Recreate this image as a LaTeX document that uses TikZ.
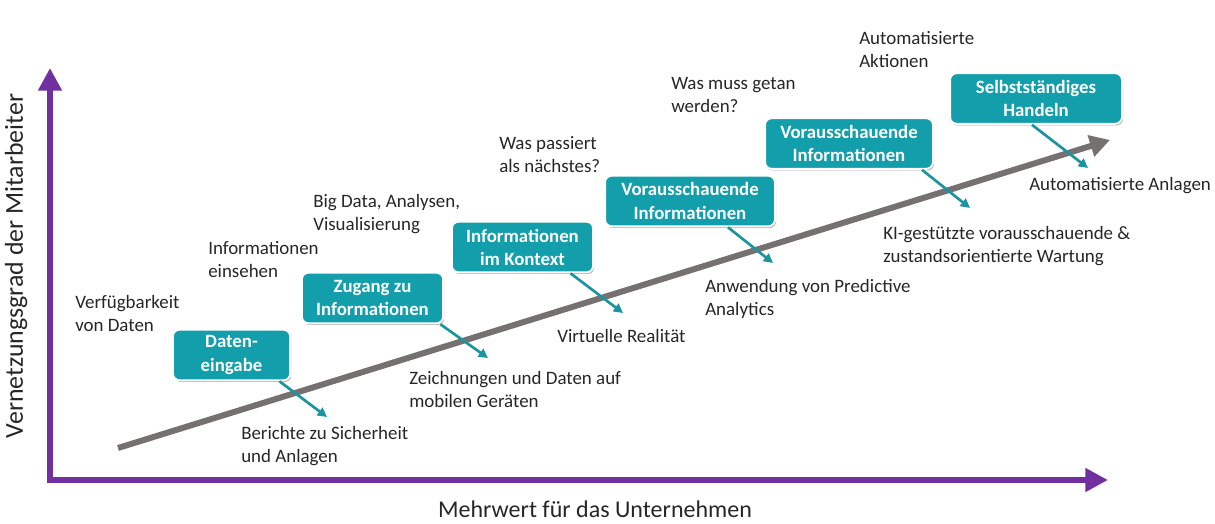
\documentclass[tikz,border=0pt]{standalone}
\usepackage{fontspec}
\setmainfont{Carlito}
\usetikzlibrary{arrows.meta,shadows,calc}
\definecolor{axispurple}{HTML}{7030A0}
\definecolor{trendgray}{HTML}{767171}
\definecolor{stepteal}{HTML}{129EAB}
\definecolor{linkteal}{HTML}{1B949F}
\definecolor{textgray}{HTML}{262626}
\tikzset{
    teal-box/.style = {draw=white, line width=1.5pt, fill=stepteal, text=white, font=\bfseries\fontsize{14.1}{17.3}\selectfont, rounded corners=5pt, align=center, minimum height=38pt, inner sep=2pt, drop shadow={shadow xshift=0.8pt, shadow yshift=-1.2pt, opacity=0.35, fill=black}},
    note-text/.style = {anchor=north west, inner sep=0pt, align=left, text=textgray, font=\fontsize{14.2}{17.3}\selectfont},
    teal-arrow/.style = {draw=linkteal, line width=2pt, -{Triangle[length=7pt,width=7pt]}},
    axis-arrow/.style = {draw=axispurple, line width=5pt, line join=miter, {Triangle[length=17pt,width=17pt]}-{Triangle[length=17pt,width=17pt]}},
    axis-label/.style = {text=textgray, inner sep=0pt},
}

\begin{document}
\begin{tikzpicture}[x=0.75pt,y=-0.75pt]
\useasboundingbox (0,0) rectangle (1215,524);

% axes
\coordinate (o) at (50,480);
\coordinate (ytip) at (50,68);
\coordinate (xtip) at (1108,480);
\draw[axis-arrow] (ytip) -- (o) -- (xtip);
\node[axis-label, rotate=90, font=\fontsize{19.4}{22}\selectfont] (ylabel) at (16,266) {Vernetzungsgrad der Mitarbeiter};
\node[axis-label, anchor=base, font=\fontsize{18}{21}\selectfont] (xlabel) at (595,517) {Mehrwert für das Unternehmen};

% trend arrow
\coordinate (g0) at (118,448);
\coordinate (g1) at (1110,140);
\draw[trendgray, line width=4.5pt, -{Triangle[length=15pt,width=16pt]}] (g0) -- (g1);

% notes above the trend
\node[note-text] (avail) at (75,295) {Verfügbarkeit\\von Daten};
\node[note-text] (view) at (208,241) {Informationen\\einsehen};
\node[note-text] (bigdata) at (313,194) {Big Data, Analysen,\\Visualisierung};
\node[note-text] (next) at (499,136) {Was passiert\\als nächstes?};
\node[note-text] (todo) at (671,77) {Was muss getan\\werden?};
\node[note-text] (actions) at (859,31) {Automatisierte\\Aktionen};

% notes below the trend
\node[note-text] (reports) at (241,426) {Berichte zu Sicherheit\\und Anlagen};
\node[note-text] (mobile) at (409,371) {Zeichnungen und Daten auf\\mobilen Geräten};
\node[note-text] (vr) at (557,329) {Virtuelle Realität};
\node[note-text] (predict) at (705,279) {Anwendung von Predictive\\Analytics};
\node[note-text] (maint) at (883,226) {KI-gestützte vorausschauende \&\\zustandsorientierte Wartung};
\node[note-text] (plants) at (1029,177) {Automatisierte Anlagen};

% end points of the teal arrows
\coordinate (e1) at (327,417);
\coordinate (e2) at (488,358);
\coordinate (e3) at (623,313);
\coordinate (e4) at (773,263);
\coordinate (e5) at (970,208);
\coordinate (e6) at (1088,168);

% stages
\node[teal-box, minimum width=88pt] (box1) at (231.5,355) {Daten-\\eingabe};
\node[teal-box, minimum width=106pt] (box2) at (372.5,298) {Zugang zu\\Informationen};
\node[teal-box, minimum width=106pt] (box3) at (522.5,247) {Informationen\\im Kontext};
\node[teal-box, minimum width=127.5pt] (box4) at (690,201) {Vorausschauende\\Informationen};
\node[teal-box, minimum width=126pt] (box5) at (849,143.5) {Vorausschauende\\Informationen};
\node[teal-box, minimum width=129pt] (box6) at (1036,98.5) {Selbstständiges\\Handeln};

\draw[teal-arrow] ($(box1.south)+(48,0)$) -- (e1);
\draw[teal-arrow] ($(box2.south)+(68,0)$) -- (e2);
\draw[teal-arrow] ($(box3.south)+(48,0)$) -- (e3);
\draw[teal-arrow] ($(box4.south)+(38,0)$) -- (e4);
\draw[teal-arrow] ($(box5.south)+(73,0)$) -- (e5);
\draw[teal-arrow] ($(box6.south)+(-4,0)$) -- (e6);
\end{tikzpicture}
\end{document}
